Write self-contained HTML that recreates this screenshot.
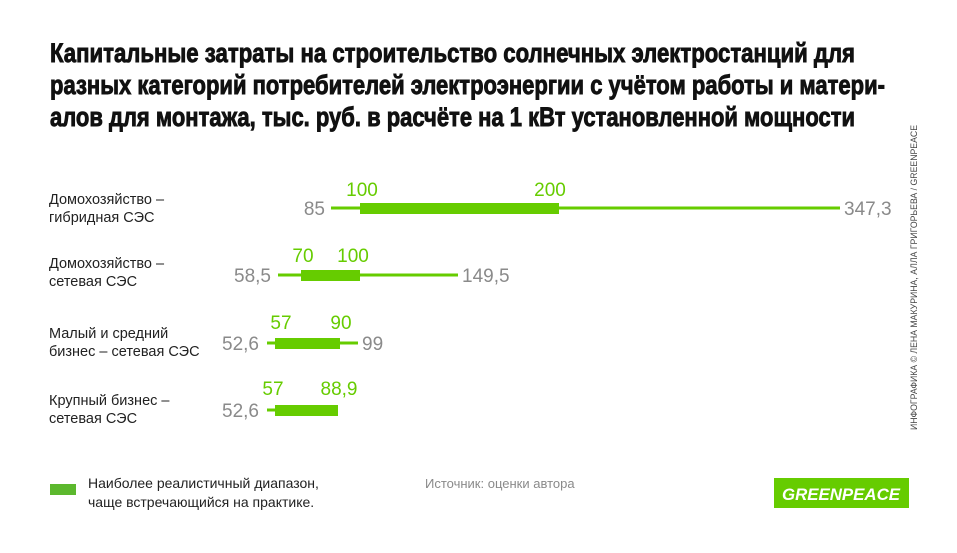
<!DOCTYPE html>
<html><head><meta charset="utf-8"><style>
html,body{margin:0;padding:0;background:#fff;}
svg{display:block;font-family:"Liberation Sans",sans-serif;}
</style></head><body>
<svg width="957" height="553" viewBox="0 0 957 553" xmlns="http://www.w3.org/2000/svg">
<rect width="957" height="553" fill="#fff"/>
<g font-weight="bold" font-size="27" fill="#111" stroke="#111" stroke-width="0.9">
<text x="50" y="62" textLength="805" lengthAdjust="spacingAndGlyphs">Капитальные затраты на строительство солнечных электростанций для</text>
<text x="50" y="94" textLength="835" lengthAdjust="spacingAndGlyphs">разных категорий потребителей электроэнергии с учётом работы и матери-</text>
<text x="50" y="126" textLength="805" lengthAdjust="spacingAndGlyphs">алов для монтажа, тыс. руб. в расчёте на 1 кВт установленной мощности</text>
</g>
<g font-size="14.5" fill="#222">
<text x="49" y="204">Домохозяйство –</text><text x="49" y="222">гибридная СЭС</text>
<text x="49" y="268">Домохозяйство –</text><text x="49" y="286">сетевая СЭС</text>
<text x="49" y="338">Малый и средний</text><text x="49" y="356">бизнес – сетевая СЭС</text>
<text x="49" y="405">Крупный бизнес –</text><text x="49" y="423">сетевая СЭС</text>
</g>
<g fill="#66cc00">
<rect x="331" y="206.5" width="509" height="3"/><rect x="360" y="203" width="199" height="11"/>
<rect x="278" y="273.5" width="180" height="3"/><rect x="301" y="270" width="59" height="11"/>
<rect x="267" y="341.5" width="91" height="3"/><rect x="275" y="338" width="65" height="11"/>
<rect x="267" y="408.5" width="71" height="3"/><rect x="275" y="405" width="63" height="11"/>
</g>
<g font-size="19" fill="#8a8a8a">
<text x="325" y="215" text-anchor="end">85</text>
<text x="844" y="215">347,3</text>
<text x="271" y="282" text-anchor="end">58,5</text>
<text x="462" y="282">149,5</text>
<text x="259" y="350" text-anchor="end">52,6</text>
<text x="362" y="350">99</text>
<text x="259" y="417" text-anchor="end">52,6</text>
</g>
<g font-size="19" fill="#66cc00" text-anchor="middle">
<text x="362" y="196">100</text><text x="550" y="196">200</text>
<text x="303" y="262">70</text><text x="353" y="262">100</text>
<text x="281" y="329">57</text><text x="341" y="329">90</text>
<text x="273" y="395">57</text><text x="339" y="395">88,9</text>
</g>
<rect x="50" y="484" width="26" height="11" fill="#5cb82e"/>
<g font-size="14" fill="#222">
<text x="88" y="488">Наиболее реалистичный диапазон,</text>
<text x="88" y="507">чаще встречающийся на практике.</text>
</g>
<text x="425" y="488" font-size="13" fill="#8a8a8a">Источник: оценки автора</text>
<rect x="774" y="478" width="135" height="30" fill="#66cc00"/>
<text x="841" y="500" font-size="17" font-weight="bold" font-style="italic" fill="#fff" text-anchor="middle" textLength="118" lengthAdjust="spacingAndGlyphs">GREENPEACE</text>
<text transform="translate(917,430) rotate(-90)" font-size="9.5" fill="#444" textLength="305" lengthAdjust="spacingAndGlyphs">ИНФОГРАФИКА © ЛЕНА МАКУРИНА, АЛЛА ГРИГОРЬЕВА / GREENPEACE</text>
</svg>
</body></html>
